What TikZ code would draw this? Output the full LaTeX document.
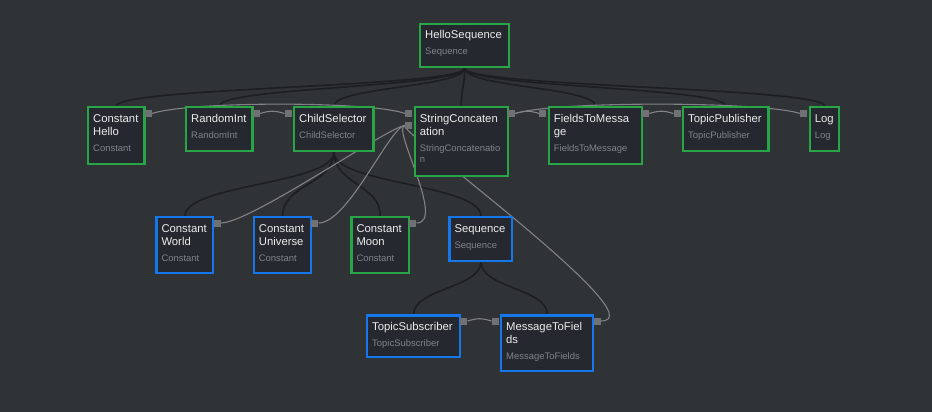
\documentclass[tikz,border=0pt]{standalone}
\usepackage{fontspec}
\setmainfont{Liberation Sans}
\definecolor{bg}{RGB}{48,51,54}
\definecolor{nodefill}{RGB}{38,40,48}
\definecolor{ngreen}{RGB}{40,165,70}
\definecolor{nblue}{RGB}{22,118,235}
\definecolor{treeedge}{RGB}{28,30,33}
\definecolor{dataedge}{RGB}{128,130,133}
\definecolor{portc}{RGB}{112,113,117}
\definecolor{ttlc}{RGB}{236,236,236}
\definecolor{subc}{RGB}{128,131,138}
\pgfdeclarelayer{bgl}
\pgfdeclarelayer{edges}
\pgfsetlayers{bgl,edges,main}
\tikzset{
 box/.style={draw, fill=nodefill, line width=2.3pt, inner sep=0pt, anchor=north west},
 gbox/.style={box, draw=ngreen},
 bbox/.style={box, draw=nblue},
 port/.style={fill=portc, minimum size=7pt, inner sep=0pt},
 ttl/.style={text=ttlc, font=\fontsize{11.3}{13.5}\selectfont, inner sep=0pt, anchor=base west},
 sub/.style={text=subc, font=\fontsize{9.45}{11}\selectfont, inner sep=0pt, anchor=base west},
 tree/.style={draw=treeedge, line width=1.6pt},
 data/.style={draw=dataedge, line width=1.1pt},
}
\newcommand\bx[6]{\node[#1, minimum width={#5-#3-2.3}, minimum height={#6-#4-2.3}] (#2) at ({#3+1.15},{#4+1.15}) {};}
\begin{document}
\begin{tikzpicture}[x=1pt,y=-1pt]
\begin{pgfonlayer}{bgl}
\fill[bg] (0,0) rectangle (932,412);
\end{pgfonlayer}
\useasboundingbox (0,0) rectangle (932,412);
% boxes
\bx{gbox}{hs}{418}{22}{509}{67}
\bx{gbox}{ch}{86}{105}{144.5}{164}
\bx{gbox}{ri}{184}{105}{252.5}{151}
\bx{gbox}{cs}{292}{105}{373.5}{151}
\bx{gbox}{sc}{412.7}{105}{507.7}{176}
\bx{gbox}{ftm}{546.7}{105}{641.7}{164}
\bx{gbox}{tp}{681}{105}{768.5}{151}
\bx{gbox}{log}{807.7}{105}{839.3}{151}
\bx{bbox}{cw}{154.3}{215}{213.3}{273.3}
\bx{bbox}{cu}{251.7}{215}{311}{273.3}
\bx{gbox}{cm}{349.3}{215}{409}{273.3}
\bx{bbox}{seq}{447.3}{215}{512.3}{260.7}
\bx{bbox}{ts}{365}{313.3}{460}{357.3}
\bx{bbox}{mtf}{499}{313.3}{593.3}{371}
% ports
\node[port] (ch-o) at (148.3,113.5) {};
\node[port] (ri-o) at (256.3,113.5) {};
\node[port] (cs-i) at (288.2,113.5) {};
\node[port] (sc-i1) at (408.9,113.5) {};
\node[port] (sc-i2) at (408.9,125.5) {};
\node[port] (sc-o) at (511.5,113.5) {};
\node[port] (ftm-i) at (542.9,113.5) {};
\node[port] (ftm-o) at (645.5,113.5) {};
\node[port] (tp-i) at (677.2,113.5) {};
\node[port] (log-i) at (803.9,113.5) {};
\node[port] (cw-o) at (217.1,223) {};
\node[port] (cu-o) at (314.8,223) {};
\node[port] (cm-o) at (412.8,223) {};
\node[port] (ts-o) at (463.8,321) {};
\node[port] (mtf-i) at (495.2,321) {};
\node[port] (mtf-o) at (597.1,321) {};
% texts
\node[ttl] (hs-t) at (425,39) {HelloSequence};
\node[sub] (hs-s) at (425,55) {Sequence};
\node[ttl] (ch-t1) at (93,122) {Constant};
\node[ttl] (ch-t2) at (93,135.5) {Hello};
\node[sub] (ch-s) at (93,151.5) {Constant};
\node[ttl] (ri-t) at (191,122) {RandomInt};
\node[sub] (ri-s) at (191,138) {RandomInt};
\node[ttl] (cs-t) at (299,122) {ChildSelector};
\node[sub] (cs-s) at (299,138) {ChildSelector};
\node[ttl] (sc-t1) at (419.7,122) {StringConcaten};
\node[ttl] (sc-t2) at (419.7,135.5) {ation};
\node[sub] (sc-s1) at (419.7,151.5) {StringConcatenatio};
\node[sub] (sc-s2) at (419.7,162.5) {n};
\node[ttl] (ftm-t1) at (553.7,122) {FieldsToMessa};
\node[ttl] (ftm-t2) at (553.7,135.5) {ge};
\node[sub] (ftm-s) at (553.7,151.5) {FieldsToMessage};
\node[ttl] (tp-t) at (688,122) {TopicPublisher};
\node[sub] (tp-s) at (688,138) {TopicPublisher};
\node[ttl] (log-t) at (814.7,122) {Log};
\node[sub] (log-s) at (814.7,138) {Log};
\node[ttl] (cw-t1) at (161.3,232) {Constant};
\node[ttl] (cw-t2) at (161.3,245.5) {World};
\node[sub] (cw-s) at (161.3,261.5) {Constant};
\node[ttl] (cu-t1) at (258.7,232) {Constant};
\node[ttl] (cu-t2) at (258.7,245.5) {Universe};
\node[sub] (cu-s) at (258.7,261.5) {Constant};
\node[ttl] (cm-t1) at (356.3,232) {Constant};
\node[ttl] (cm-t2) at (356.3,245.5) {Moon};
\node[sub] (cm-s) at (356.3,261.5) {Constant};
\node[ttl] (seq-t) at (454.3,232) {Sequence};
\node[sub] (seq-s) at (454.3,248) {Sequence};
\node[ttl] (ts-t) at (372,330) {TopicSubscriber};
\node[sub] (ts-s) at (372,346) {TopicSubscriber};
\node[ttl] (mtf-t1) at (506,330) {MessageToFiel};
\node[ttl] (mtf-t2) at (506,343.5) {ds};
\node[sub] (mtf-s) at (506,359.5) {MessageToFields};
% edges
\begin{pgfonlayer}{edges}
\foreach \c in {ch,ri,cs,sc,ftm,tp,log}
  \draw[tree] (hs.south) .. controls +(0,19) and +(0,-19) .. (\c.north);
\foreach \c in {cw,cu,cm,seq}
  \draw[tree] (cs.south) .. controls +(0,32) and +(0,-32) .. (\c.north);
\foreach \c in {ts,mtf}
  \draw[tree] (seq.south) .. controls +(0,26) and +(0,-26) .. (\c.north);
\draw[data] (ch-o.east) .. controls (190,101) and (370,101) .. (sc-i1.west);
\draw[data] (ri-o.east) .. controls +(10,-3) and +(-10,-3) .. (cs-i.west);
\draw[data] (sc-o.east) .. controls +(10,-3) and +(-10,-3) .. (ftm-i.west);
\draw[data] (sc-o.east) .. controls (555,101) and (760,101) .. (log-i.west);
\draw[data] (ftm-o.east) .. controls +(10,-3) and +(-10,-3) .. (tp-i.west);
\draw[data] (ts-o.east) .. controls +(10,-3) and +(-10,-3) .. (mtf-i.west);
\draw[data] (cw-o.east) .. controls +(30,0) and +(-15,0) .. (sc-i2.west);
\draw[data] (cu-o.east) .. controls +(30,0) and +(-15,0) .. (sc-i2.west);
\draw[data] (cm-o.east) .. controls +(30,0) and +(-15,0) .. (sc-i2.west);
\draw[data] (mtf-o.east) .. controls +(60,0) and +(-15,0) .. (sc-i2.west);
\end{pgfonlayer}
\end{tikzpicture}
\end{document}
